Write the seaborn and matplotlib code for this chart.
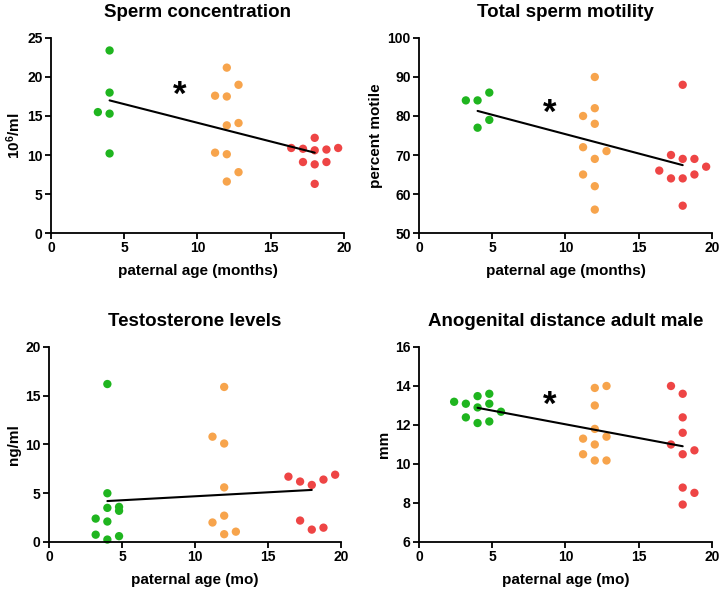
import numpy as np
import pandas as pd
import matplotlib
matplotlib.use("Agg")
import matplotlib.pyplot as plt
import seaborn as sns

sns.set_style("ticks")
plt.rcParams['font.family'] = ['Liberation Sans', 'DejaVu Sans']
plt.rcParams['font.weight'] = 'bold'
plt.rcParams['mathtext.default'] = 'regular'
plt.rcParams['text.color'] = 'black'
plt.rcParams['axes.labelcolor'] = 'black'
plt.rcParams['xtick.color'] = 'black'
plt.rcParams['ytick.color'] = 'black'

groups = ["4 mo", "12 mo", "18 mo"]
palette = {"4 mo": "#1fb51f", "12 mo": "#f7a44c", "18 mo": "#ee4545"}

# Panel 1: Sperm concentration
conc_x_4 = [4, 4, 3.2, 4, 4]
conc_y_4 = [23.4, 18.0, 15.5, 15.3, 10.2]
conc_x_12 = [12, 12.8, 11.2, 12, 12, 12.8, 11.2, 12, 12.8, 12]
conc_y_12 = [21.2, 19.0, 17.6, 17.5, 13.8, 14.1, 10.3, 10.1, 7.8, 6.6]
conc_x_18 = [18, 16.4, 17.2, 18, 18.8, 19.6, 17.2, 18, 18.8, 18]
conc_y_18 = [12.2, 10.9, 10.8, 10.6, 10.7, 10.9, 9.1, 8.8, 9.1, 6.3]
conc_fit_x = [4, 18]
conc_fit_y = [17.0, 10.3]

# Panel 2: Total sperm motility
mot_x_4 = [3.2, 4, 4.8, 4.8, 4]
mot_y_4 = [84, 84, 86, 79, 77]
mot_x_12 = [12, 12, 11.2, 12, 11.2, 12.8, 12, 11.2, 12, 12]
mot_y_12 = [90, 82, 80, 78, 72, 71, 69, 65, 62, 56]
mot_x_18 = [18, 17.2, 18, 18.8, 16.4, 19.6, 17.2, 18, 18.8, 18]
mot_y_18 = [88, 70, 69, 69, 66, 67, 64, 64, 65, 57]
mot_fit_x = [4, 18]
mot_fit_y = [81.3, 67.4]

# Panel 3: Testosterone levels
tes_x_4 = [4, 4, 4, 4.8, 4.8, 3.2, 4, 3.2, 4.8, 4]
tes_y_4 = [16.2, 5.0, 3.5, 3.6, 3.2, 2.4, 2.1, 0.75, 0.6, 0.25]
tes_x_12 = [12, 11.2, 12, 12, 12, 11.2, 12.8, 12]
tes_y_12 = [15.9, 10.8, 10.1, 5.6, 2.7, 2.0, 1.06, 0.8]
tes_x_18 = [16.4, 17.2, 18, 18.8, 19.6, 17.2, 18, 18.8]
tes_y_18 = [6.7, 6.2, 5.85, 6.4, 6.9, 2.2, 1.27, 1.47]
tes_fit_x = [4, 18]
tes_fit_y = [4.2, 5.34]

# Panel 4: Anogenital distance adult male
agd_x_4 = [2.4, 3.2, 4, 4.8, 4.8, 4, 5.6, 3.2, 4.8, 4]
agd_y_4 = [13.19, 13.09, 13.48, 13.6, 13.09, 12.9, 12.68, 12.39, 12.18, 12.1]
agd_x_12 = [12.8, 12, 12, 12, 12.8, 11.2, 12, 11.2, 12, 12.8]
agd_y_12 = [14.0, 13.9, 13.0, 11.8, 11.4, 11.3, 11.0, 10.5, 10.18, 10.18]
agd_x_18 = [17.2, 18, 18, 18, 17.2, 18, 18.8, 18, 18.8, 18]
agd_y_18 = [14.0, 13.6, 12.39, 11.6, 11.0, 10.5, 10.7, 8.79, 8.52, 7.92]
agd_fit_x = [4, 18]
agd_fit_y = [12.88, 10.91]

titles = ["Sperm concentration", "Total sperm motility",
          "Testosterone levels", "Anogenital distance adult male"]
ylabels = [r"10$^{6}$/ml", "percent motile", "ng/ml", "mm"]
xlabels = ["paternal age (months)", "paternal age (months)",
           "paternal age (mo)", "paternal age (mo)"]
ylims = [(0, 25), (50, 100), (0, 20), (6, 16)]
yticks = [[0, 5, 10, 15, 20, 25], [50, 60, 70, 80, 90, 100],
          [0, 5, 10, 15, 20], [6, 8, 10, 12, 14, 16]]
xticks = [0, 5, 10, 15, 20]
star_pos = [(8.8, 17.6), (8.95, 80.8), None, (8.95, 12.99)]

panels = [
    (conc_x_4, conc_y_4, conc_x_12, conc_y_12, conc_x_18, conc_y_18, conc_fit_x, conc_fit_y),
    (mot_x_4, mot_y_4, mot_x_12, mot_y_12, mot_x_18, mot_y_18, mot_fit_x, mot_fit_y),
    (tes_x_4, tes_y_4, tes_x_12, tes_y_12, tes_x_18, tes_y_18, tes_fit_x, tes_fit_y),
    (agd_x_4, agd_y_4, agd_x_12, agd_y_12, agd_x_18, agd_y_18, agd_fit_x, agd_fit_y),
]

positions = [
    [0.0708, 0.6044, 0.4070, 0.3311],
    [0.5819, 0.6044, 0.4070, 0.3311],
    [0.0680, 0.0798, 0.4056, 0.3311],
    [0.5819, 0.0798, 0.4070, 0.3311],
]

fig = plt.figure(figsize=(7.2, 5.89), dpi=100)

for i, p in enumerate(panels):
    ax = fig.add_axes(positions[i])
    x4, y4, x12, y12, x18, y18, fx, fy = p
    df = pd.DataFrame({
        "x": list(x4) + list(x12) + list(x18),
        "y": list(y4) + list(y12) + list(y18),
        "g": [groups[0]] * len(x4) + [groups[1]] * len(x12) + [groups[2]] * len(x18),
    })
    sns.scatterplot(data=df, x="x", y="y", hue="g", palette=palette, s=36,
                    linewidth=0, legend=False, ax=ax, clip_on=False, zorder=2)
    fit = pd.DataFrame({"x": fx, "y": fy})
    sns.lineplot(data=fit, x="x", y="y", color="black", linewidth=1.5, ax=ax, zorder=3)
    ax.set_xlim(0, 20)
    ax.set_ylim(*ylims[i])
    ax.set_xticks(xticks)
    ax.set_yticks(yticks[i])
    sns.despine(ax=ax)
    for s in ["left", "bottom"]:
        ax.spines[s].set_linewidth(1.3)
        ax.spines[s].set_color("black")
    ax.tick_params(axis="both", direction="out", length=4, width=1.3,
                   labelsize=10, colors="black", pad=2)
    for lab in ax.get_xticklabels() + ax.get_yticklabels():
        lab.set_fontweight("bold")
    ax.set_title(titles[i], fontsize=13.5, fontweight="bold", pad=15)
    ax.set_xlabel(xlabels[i], fontsize=11, fontweight="bold", labelpad=6)
    ax.set_ylabel(ylabels[i], fontsize=11, fontweight="bold", labelpad=3)
    if star_pos[i] is not None:
        ax.text(star_pos[i][0], star_pos[i][1], "*", fontsize=25, fontweight="bold",
                ha="center", va="center", color="black")

fig.savefig("out.png", dpi=100)
